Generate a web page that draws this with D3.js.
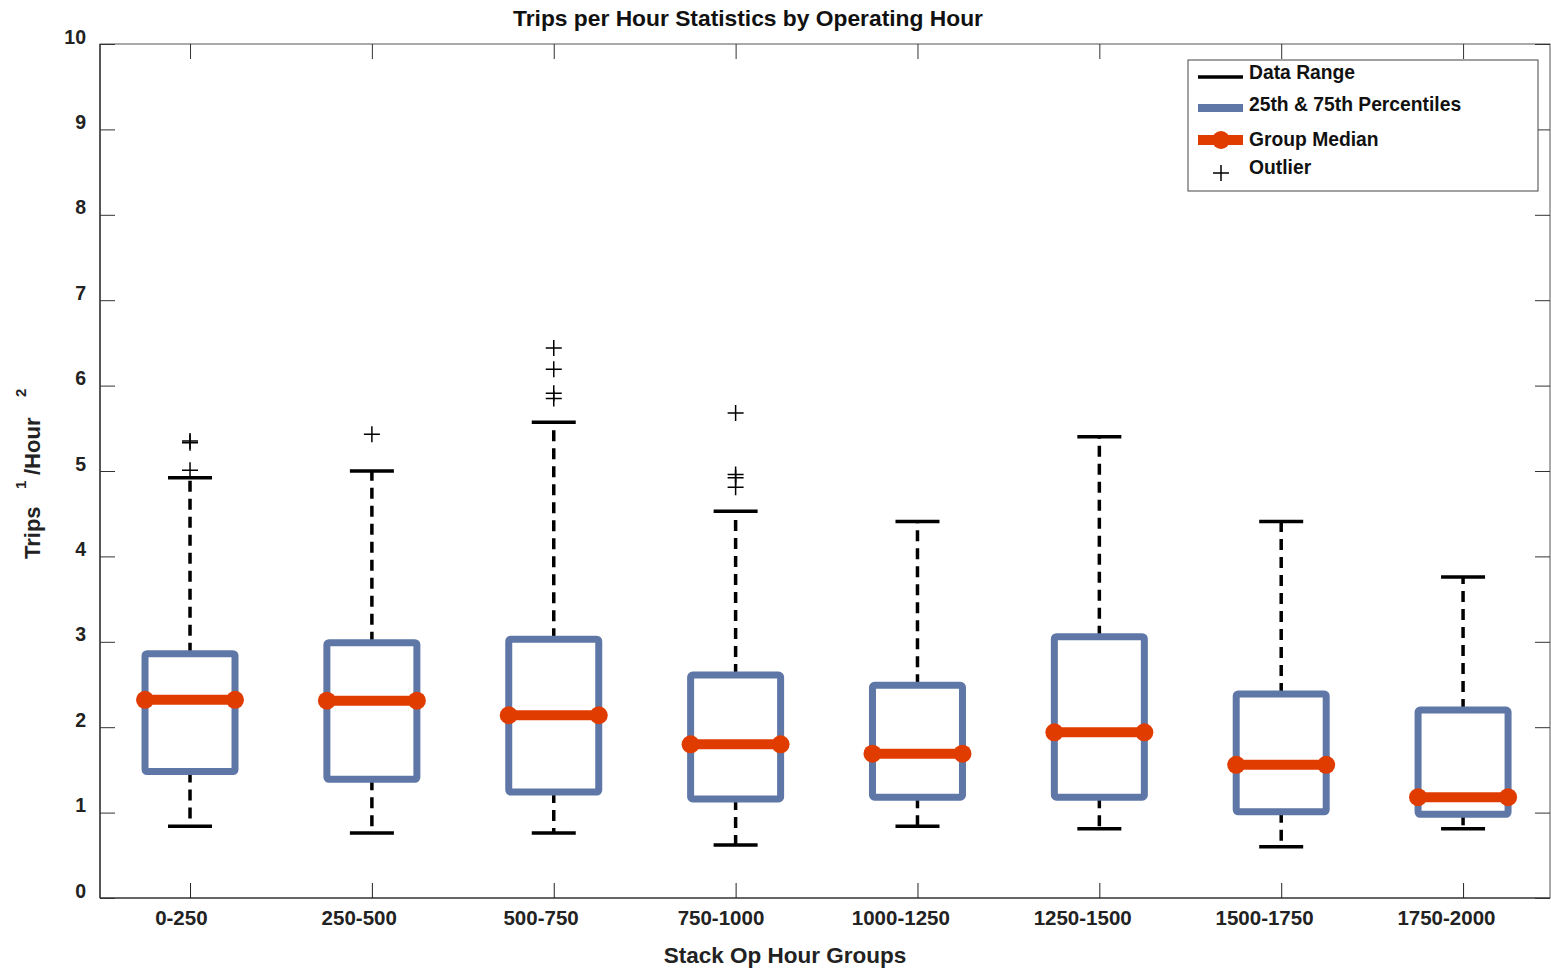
<!DOCTYPE html>
<html><head><meta charset="utf-8">
<script src="https://cdn.jsdelivr.net/npm/d3@7"></script>
<style>body{margin:0;background:#fff;} svg{display:block;font-family:"Liberation Sans",Arial,sans-serif;font-weight:bold;}</style>
</head><body>
<script>
const categories = ["0-250","250-500","500-750","750-1000","1000-1250","1250-1500","1500-1750","1750-2000"];
const whiskerHigh = [4.92, 5.00, 5.57, 4.53, 4.41, 5.40, 4.41, 3.76];
const q3          = [2.86, 2.99, 3.03, 2.61, 2.49, 3.06, 2.39, 2.20];
const medians     = [2.32, 2.31, 2.14, 1.80, 1.69, 1.94, 1.56, 1.18];
const q1          = [1.48, 1.39, 1.24, 1.16, 1.18, 1.18, 1.01, 0.98];
const whiskerLow  = [0.84, 0.76, 0.76, 0.62, 0.84, 0.81, 0.60, 0.81];
const outliers = [[5.35, 5.33, 5.01],[5.43],[6.44, 6.19, 5.91, 5.85],[5.68, 4.96, 4.92, 4.81],[],[],[],[]];
const yTicks = [0,1,2,3,4,5,6,7,8,9,10];
const legendLabels = ["Data Range","25th & 75th Percentiles","Group Median","Outlier"];

const W = 1551, H = 969;
const svg = d3.select("body").append("svg").attr("width", W).attr("height", H);
const L = 100, R = 1550, T = 44, B = 898;
const x = d3.scaleLinear().domain([0.505, 8.478]).range([L, R]);
const y = d3.scaleLinear().domain([0, 10]).range([B, T]);
const blue = "#5f77a6", red = "#e03c00";
const FF = "Liberation Sans, Arial, sans-serif";

// frame
svg.append("rect").attr("x", L).attr("y", T).attr("width", R - L).attr("height", B - T)
  .attr("fill", "none").attr("stroke", "#555").attr("stroke-width", 1);
svg.append("line").attr("x1", L).attr("x2", L).attr("y1", T).attr("y2", B).attr("stroke", "#222").attr("stroke-width", 1.2);
svg.append("line").attr("x1", L).attr("x2", R).attr("y1", B).attr("y2", B).attr("stroke", "#222").attr("stroke-width", 1.2);

// y axis
const yAx = svg.append("g").attr("transform", `translate(${L},0)`)
  .call(d3.axisLeft(y).tickValues(yTicks).tickSize(-15).tickPadding(0).tickFormat(d3.format("d")));
yAx.select(".domain").remove();
yAx.selectAll("line").attr("stroke", "#333");
yAx.selectAll("text").attr("x", -14).attr("dy", "-0.05em").attr("font-size", 19.5).attr("font-weight", "bold").attr("fill", "#222").attr("font-family", FF);
const yAxR = svg.append("g").attr("transform", `translate(${R},0)`)
  .call(d3.axisRight(y).tickValues(yTicks).tickSize(-15).tickFormat(""));
yAxR.select(".domain").remove();
yAxR.selectAll("line").attr("stroke", "#333");

// x axis
const xAx = svg.append("g").attr("transform", `translate(0,${B})`)
  .call(d3.axisBottom(x).tickValues(d3.range(1, 9)).tickSize(-15).tickPadding(0).tickFormat((d) => categories[d - 1]));
xAx.select(".domain").remove();
xAx.selectAll("line").attr("stroke", "#222");
xAx.selectAll("text").attr("y", 12).attr("dy", "0.71em").attr("font-size", 20.5).attr("font-weight", "bold").attr("fill", "#222").attr("font-family", FF)
  .each(function () { d3.select(this).attr("dx", -0.175 * this.getComputedTextLength()); });
const xAxT = svg.append("g").attr("transform", `translate(0,${T})`)
  .call(d3.axisTop(x).tickValues(d3.range(1, 9)).tickSize(-15).tickFormat(""));
xAxT.select(".domain").remove();
xAxT.selectAll("line").attr("stroke", "#333");

const idx = d3.range(categories.length);
const halfBox = 45, halfCap = 22;
const g = svg.append("g");

// whiskers
idx.forEach(i => {
  const cx = x(i + 1);
  g.append("line").attr("x1", cx).attr("x2", cx).attr("y1", y(q3[i])).attr("y2", y(whiskerHigh[i]))
    .attr("stroke", "#000").attr("stroke-width", 3.5).attr("stroke-dasharray", "11,7");
  g.append("line").attr("x1", cx).attr("x2", cx).attr("y1", y(q1[i])).attr("y2", y(whiskerLow[i]))
    .attr("stroke", "#000").attr("stroke-width", 3.5).attr("stroke-dasharray", "11,7");
  [whiskerHigh[i], whiskerLow[i]].forEach(v => {
    g.append("line").attr("x1", cx - halfCap).attr("x2", cx + halfCap).attr("y1", y(v)).attr("y2", y(v))
      .attr("stroke", "#000").attr("stroke-width", 3.5);
  });
});
// boxes
idx.forEach(i => {
  const cx = x(i + 1);
  g.append("rect").attr("x", cx - halfBox).attr("y", y(q3[i])).attr("width", 2 * halfBox)
    .attr("height", y(q1[i]) - y(q3[i])).attr("fill", "none").attr("stroke", blue).attr("stroke-width", 7).attr("rx", 2);
});
// medians
idx.forEach(i => {
  const cx = x(i + 1), my = y(medians[i]);
  g.append("line").attr("x1", cx - halfBox).attr("x2", cx + halfBox).attr("y1", my).attr("y2", my)
    .attr("stroke", red).attr("stroke-width", 10);
  [cx - halfBox, cx + halfBox].forEach(px => g.append("circle").attr("cx", px).attr("cy", my).attr("r", 9).attr("fill", red));
});
// outliers
idx.forEach(i => {
  const cx = x(i + 1);
  outliers[i].forEach(v => {
    const oy = y(v);
    g.append("path").attr("d", `M${cx - 8},${oy}H${cx + 8}M${cx},${oy - 8}V${oy + 8}`)
      .attr("stroke", "#000").attr("stroke-width", 1.5).attr("fill", "none");
  });
});

// title and labels
svg.append("text").attr("x", 748).attr("y", 26).attr("text-anchor", "middle").attr("font-size", 22.8).attr("fill", "#111")
  .text("Trips per Hour Statistics by Operating Hour");
svg.append("text").attr("x", 785).attr("y", 963).attr("text-anchor", "middle").attr("font-size", 22.5).attr("fill", "#222")
  .text("Stack Op Hour Groups");
const yl = svg.append("g").attr("transform", "translate(40,559) rotate(-90)").attr("fill", "#222");
yl.append("text").attr("x", 0).attr("y", 0).attr("font-size", 22).text("Trips");
yl.append("text").attr("x", 70).attr("y", -14).attr("font-size", 15).text("1");
yl.append("text").attr("x", 84).attr("y", 0).attr("font-size", 22).text("/Hour");
yl.append("text").attr("x", 162).attr("y", -14).attr("font-size", 15).text("2");

// legend
const lg = svg.append("g");
lg.append("rect").attr("x", 1188).attr("y", 60).attr("width", 350).attr("height", 131)
  .attr("fill", "#fff").attr("stroke", "#444").attr("stroke-width", 1);
const ly = [77, 108, 140, 173];
lg.append("line").attr("x1", 1198).attr("x2", 1243).attr("y1", ly[0]).attr("y2", ly[0]).attr("stroke", "#000").attr("stroke-width", 3.5);
lg.append("line").attr("x1", 1198).attr("x2", 1243).attr("y1", ly[1]).attr("y2", ly[1]).attr("stroke", blue).attr("stroke-width", 8);
lg.append("line").attr("x1", 1198).attr("x2", 1243).attr("y1", ly[2]).attr("y2", ly[2]).attr("stroke", red).attr("stroke-width", 10);
lg.append("circle").attr("cx", 1221).attr("cy", ly[2]).attr("r", 9).attr("fill", red);
lg.append("path").attr("d", `M1213,${ly[3]}H1229M1221,${ly[3] - 8}V${ly[3] + 8}`).attr("stroke", "#000").attr("stroke-width", 1.5);
const lty = [72, 104, 139, 167];
legendLabels.forEach((t, i) => lg.append("text").attr("x", 1249).attr("y", lty[i]).attr("dy", "0.35em")
  .attr("font-size", 19.3).attr("fill", "#111").text(t));
</script>
</body></html>
